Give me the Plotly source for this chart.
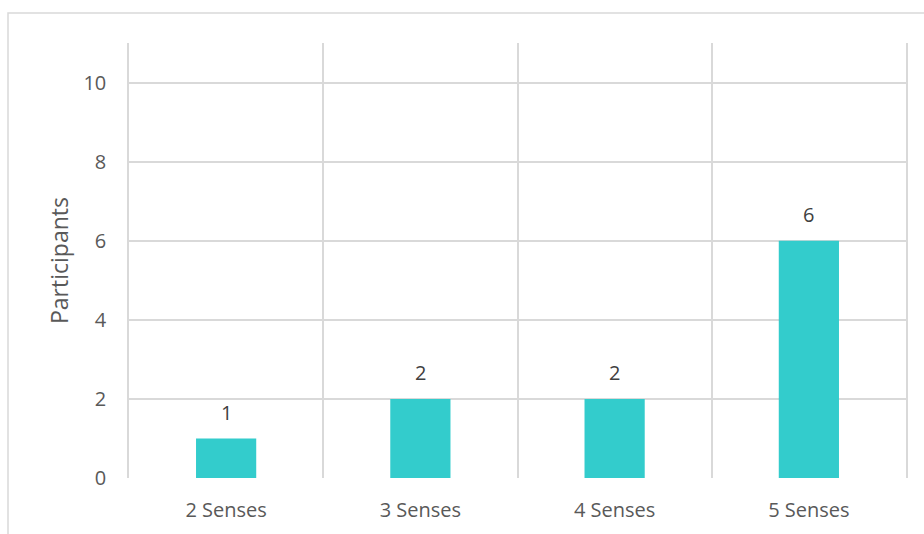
import plotly.graph_objects as go

categories = ["2 Senses", "3 Senses", "4 Senses", "5 Senses"]
participants = [1, 2, 2, 6]
y_ticks = [0, 2, 4, 6, 8, 10]

PL, PR, PT, PB = 129, 906, 43, 478
W, H = 924, 534

fig = go.Figure()
fig.add_trace(go.Bar(
    x=categories, y=participants, width=0.31,
    marker=dict(color="#33CCCC", line=dict(width=0)),
    hoverinfo="x+y",
))

for c, v in zip(categories, participants):
    fig.add_annotation(x=c, y=v, text=str(v), showarrow=False,
                       yanchor="middle", yshift=26,
                       font=dict(family="Open Sans", size=20, color="#404040"))

pw, ph = PR - PL, PB - PT
fig.add_shape(type="rect", xref="paper", yref="paper",
              x0=(8 - PL) / pw, x1=(935 - PL) / pw,
              y0=(PB - 545) / ph, y1=(PB - 13) / ph,
              line=dict(color="#D9D9D9", width=1.5), fillcolor="rgba(0,0,0,0)",
              layer="below")

fig.update_layout(
    width=W, height=H,
    margin=dict(l=PL, r=W - PR, t=PT, b=H - PB, pad=0),
    paper_bgcolor="white", plot_bgcolor="white",
    showlegend=False,
    font=dict(family="Open Sans", size=20, color="#595959"),
    xaxis=dict(
        type="category", tickson="boundaries", showgrid=True,
        gridcolor="#D9D9D9", gridwidth=1.5, ticks="", showline=False,
        zeroline=False, ticklabelstandoff=18,
        tickfont=dict(family="Open Sans", size=20, color="#595959"),
    ),
    yaxis=dict(
        range=[0, 11], tickvals=y_ticks, showgrid=True,
        gridcolor="#D9D9D9", gridwidth=1.5, zeroline=False, ticks="",
        showline=True, mirror=True, linecolor="#D9D9D9", linewidth=1.5,
        ticklabelstandoff=17,
        tickfont=dict(family="Open Sans", size=20, color="#595959"),
        title=dict(text="Participants", standoff=8,
                   font=dict(family="Open Sans", size=23, color="#595959")),
    ),
)

fig.write_html("out.html")
